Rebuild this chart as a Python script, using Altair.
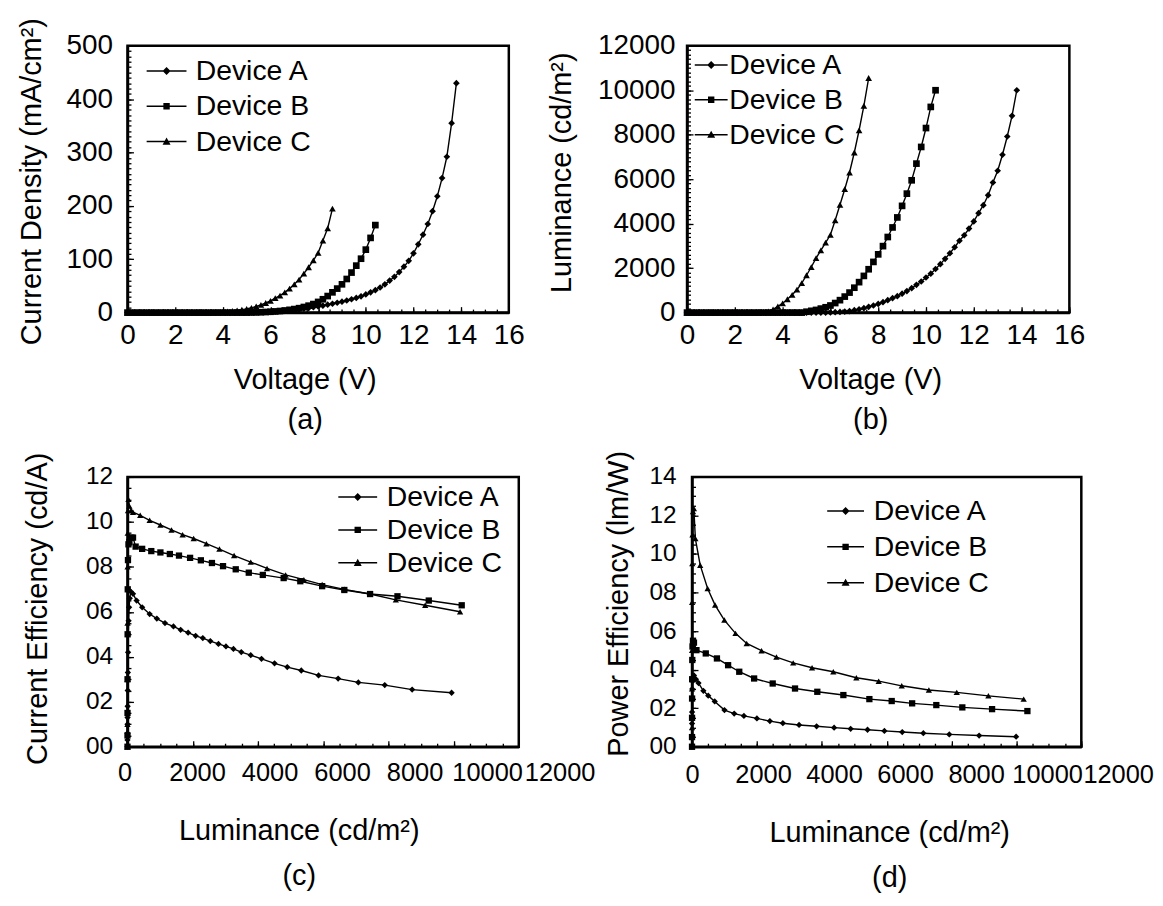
import altair as alt
import pandas as pd

FONT = "Liberation Sans"
DEVICES = ["Device A", "Device B", "Device C"]
MARKERS = ["diamond", "square", "triangle-up"]

# ---------------- (a) current density vs voltage ----------------
volt_A = [0.0, 0.2, 0.4, 0.6, 0.8, 1.0, 1.2, 1.4, 1.6, 1.8, 2.0, 2.2, 2.4, 2.6, 2.8, 3.0, 3.2, 3.4, 3.6, 3.8,
          4.0, 4.2, 4.4, 4.6, 4.8, 5.0, 5.2, 5.4, 5.6, 5.8, 6.0, 6.2, 6.4, 6.6, 6.8, 7.0, 7.2, 7.4, 7.6, 7.8,
          8.0, 8.2, 8.4, 8.6, 8.8, 9.0, 9.2, 9.4, 9.6, 9.8, 10.0, 10.2, 10.4, 10.6, 10.8, 11.0, 11.2, 11.4,
          11.6, 11.8, 12.0, 12.2, 12.4, 12.6, 12.8, 13.0, 13.2, 13.4, 13.6, 13.8]
volt_B = [0.0, 0.2, 0.4, 0.6, 0.8, 1.0, 1.2, 1.4, 1.6, 1.8, 2.0, 2.2, 2.4, 2.6, 2.8, 3.0, 3.2, 3.4, 3.6, 3.8,
          4.0, 4.2, 4.4, 4.6, 4.8, 5.0, 5.2, 5.4, 5.6, 5.8, 6.0, 6.2, 6.4, 6.6, 6.8, 7.0, 7.2, 7.4, 7.6, 7.8,
          8.0, 8.2, 8.4, 8.6, 8.8, 9.0, 9.2, 9.4, 9.6, 9.8, 10.0, 10.2, 10.4]
volt_C_jv = [0.0, 0.2, 0.4, 0.6, 0.8, 1.0, 1.2, 1.4, 1.6, 1.8, 2.0, 2.2, 2.4, 2.6, 2.8, 3.0, 3.2, 3.4, 3.6, 3.8,
             4.0, 4.2, 4.4, 4.6, 4.8, 5.0, 5.2, 5.4, 5.6, 5.8, 6.0, 6.2, 6.4, 6.6, 6.8, 7.0, 7.2, 7.4, 7.6, 7.8,
             8.0, 8.2, 8.4, 8.6]
jd_A = [0, 0, 0, 0, 0, 0, 0, 0, 0, 0, 0, 0, 0, 0, 0, 0, 0, 0, 0, 0, 0, 0, 0, 0, 0,
        0.2, 0.3, 0.5, 0.8, 1.1, 1.5, 2.0, 2.6, 3.3, 4.1, 5.0, 6.0, 7.2, 8.5, 10, 11.5, 13, 14.8, 16.6, 18.5,
        20.5, 22.7, 25, 27.5, 30.5, 34, 38, 42, 47, 53, 60, 67, 76, 86, 97, 111, 128, 146, 166, 190,
        218, 252, 292, 355, 430]
jd_B = [0, 0, 0, 0, 0, 0, 0, 0, 0, 0, 0, 0, 0, 0, 0, 0, 0, 0, 0, 0, 0, 0, 0, 0, 0, 0,
        0.2, 0.4, 0.7, 1.1, 1.6, 2.2, 3.0, 4.0, 5.2, 6.6, 8.3, 10.5, 13, 16, 20, 25, 31, 38, 45, 53,
        63, 75, 88, 101, 118, 140, 164]
jd_C = [0, 0, 0, 0, 0, 0, 0, 0, 0, 0, 0, 0, 0, 0, 0, 0, 0, 0,
        0.3, 0.8, 1.4, 2.1, 3.0, 4.2, 5.5, 7.0, 9.0, 11.5, 14.5, 18, 22, 27, 32, 38, 45, 53, 62, 73,
        85, 98, 112, 135, 158, 195]

# ---------------- (b) luminance vs voltage ----------------
volt_C_lv = [0.0, 0.2, 0.4, 0.6, 0.8, 1.0, 1.2, 1.4, 1.6, 1.8, 2.0, 2.2, 2.4, 2.6, 2.8, 3.0, 3.2, 3.4, 3.6, 3.8,
             4.0, 4.2, 4.4, 4.6, 4.8, 5.0, 5.2, 5.4, 5.6, 5.8, 6.0, 6.2, 6.4, 6.6, 6.8, 7.0, 7.2, 7.4, 7.6]
lum_A = [0, 0, 0, 0, 0, 0, 0, 0, 0, 0, 0, 0, 0, 0, 0, 0, 0, 0, 0, 0, 0, 0, 0, 0, 0, 0, 0, 0, 0, 0,
         10, 20, 30, 45, 70, 110, 150, 200, 260, 320, 390, 470, 560, 650, 740, 850, 970, 1100, 1250, 1400,
         1580, 1750, 1960, 2180, 2420, 2670, 2940, 3230, 3480, 3780, 4100, 4470, 4830, 5280, 5850,
         6380, 7100, 7920, 8850, 10000]
lum_B = [0, 0, 0, 0, 0, 0, 0, 0, 0, 0, 0, 0, 0, 0, 0, 0, 0, 0, 0, 0, 0, 0, 0, 0, 0,
         40, 80, 120, 180, 240, 320, 430, 560, 720, 900, 1120, 1370, 1650, 1950, 2280, 2620, 2990, 3400,
         3830, 4280, 4800, 5350, 5950, 6700, 7450, 8300, 9250, 10000]
lum_C = [0, 0, 0, 0, 0, 0, 0, 0, 0, 0, 0, 0, 0, 0, 0, 0,
         20, 60, 150, 280, 420, 600, 800, 1030, 1330, 1680, 2050, 2450, 2800, 3150, 3500, 4150, 4850,
         5550, 6300, 7200, 8200, 9300, 10550]

# ---------------- (c) current efficiency vs luminance ----------------
ce_lum_A = [0, 0, 1, 2, 3, 5, 8, 12, 18, 25, 35, 50, 70, 100, 170, 280, 450, 680, 900, 1150, 1410, 1630,
            1860, 2090, 2310, 2540, 2790, 3020, 3250, 3490, 3780, 4110, 4510, 4900, 5330, 5860, 6460,
            7080, 7890, 8730, 9940]
ce_A = [0.0, 0.3, 0.6, 1.0, 1.3, 1.8, 2.5, 3.3, 4.2, 5.0, 5.6, 6.2, 6.6, 6.9, 6.8, 6.5, 6.2, 5.9, 5.7,
        5.5, 5.35, 5.2, 5.07, 4.93, 4.83, 4.7, 4.57, 4.46, 4.35, 4.21, 4.07, 3.91, 3.71, 3.54, 3.39,
        3.17, 3.03, 2.86, 2.74, 2.54, 2.4]
ce_lum_B = [0, 0, 1, 2, 4, 8, 15, 30, 60, 120, 170, 250, 450, 730, 1010, 1300, 1580, 1920, 2250, 2590,
            2930, 3320, 3720, 4150, 4790, 5300, 5970, 6650, 7440, 8280, 9240, 10250]
ce_B = [0.0, 0.5, 1.5, 3.0, 5.0, 7.0, 8.3, 9.0, 9.1, 9.3, 9.3, 8.9, 8.8, 8.7, 8.64, 8.57, 8.5, 8.4,
        8.29, 8.17, 8.03, 7.89, 7.74, 7.64, 7.5, 7.36, 7.14, 6.97, 6.79, 6.69, 6.5, 6.29]
ce_lum_C = [0, 0, 1, 2, 4, 8, 15, 30, 60, 120, 170, 390, 680, 1010, 1350, 1690, 2030, 2420, 2820, 3270,
            3780, 4280, 4850, 5410, 5970, 6650, 7440, 8230, 9130, 10200]
ce_C = [0.0, 1.0, 3.0, 5.5, 8.0, 9.5, 10.5, 11.0, 10.7, 10.5, 10.43, 10.29, 10.07, 9.86, 9.64, 9.43,
        9.26, 9.03, 8.79, 8.5, 8.21, 7.93, 7.64, 7.43, 7.21, 7.0, 6.79, 6.53, 6.29, 6.0]

# ---------------- (d) power efficiency vs luminance ----------------
pe_lum_A = [0, 0, 1, 2, 4, 8, 15, 30, 60, 120, 200, 350, 500, 700, 1000, 1300, 1600, 2000, 2400, 2800,
            3300, 3840, 4380, 4890, 5410, 5930, 6480, 7130, 7930, 8850, 9990]
pe_A = [0.0, 0.5, 1.2, 1.8, 2.5, 3.0, 3.4, 3.6, 3.7, 3.5, 3.3, 2.9, 2.65, 2.35, 1.9, 1.72, 1.6, 1.47,
        1.33, 1.22, 1.13, 1.06, 0.99, 0.93, 0.88, 0.82, 0.76, 0.7, 0.64, 0.58, 0.52]
pe_lum_B = [0, 0, 1, 2, 4, 8, 15, 30, 60, 137, 424, 768, 1112, 1456, 1914, 2487, 3175, 3862, 4665, 5467,
            6155, 6785, 7530, 8332, 9249, 10338]
pe_B = [0.0, 0.5, 1.5, 2.5, 3.5, 4.5, 5.2, 5.5, 5.4, 5.01, 4.84, 4.58, 4.23, 3.89, 3.54, 3.28, 3.02,
        2.85, 2.68, 2.47, 2.37, 2.25, 2.16, 2.04, 1.95, 1.85]
pe_lum_C = [0, 0, 1, 2, 4, 8, 15, 30, 57, 103, 252, 481, 711, 997, 1341, 1685, 2143, 2602, 3118, 3700,
            4355, 5066, 5754, 6464, 7301, 8160, 9135, 10223]
pe_C = [0.0, 1.0, 3.0, 5.0, 7.5, 9.5, 11.0, 12.2, 12.36, 10.8, 9.42, 8.21, 7.35, 6.57, 5.88, 5.36,
        4.98, 4.65, 4.35, 4.1, 3.89, 3.58, 3.4, 3.16, 2.94, 2.82, 2.64, 2.47]


def build_df(xs_list, ys_list):
    recs = []
    for dev, xs, ys in zip(DEVICES, xs_list, ys_list):
        for i, (xv, yv) in enumerate(zip(xs, ys)):
            recs.append({"x": xv, "y": yv, "Device": dev, "idx": i})
    return pd.DataFrame(recs)


def legend_paths(sym_len, marker):
    # unit = sym_len/4 px ; the line is a thin filled bar from -2 to 2 units (= sym_len px)
    m = 2.0 * marker / sym_len
    q = 0.8 * m
    t = 3.0 / sym_len
    bar = f"M-2,{-t:.3f}H2V{t:.3f}H-2Z"
    return [
        bar + f"M0,{-m:.3f}L{m:.3f},0L0,{m:.3f}L{-m:.3f},0Z",
        bar + f"M{-q:.3f},{-q:.3f}H{q:.3f}V{q:.3f}H{-q:.3f}Z",
        bar + f"M0,{-m:.3f}L{m:.3f},{0.8 * m:.3f}H{-m:.3f}Z",
    ]


AXC = dict(domainColor="black", domainWidth=2.5, labelColor="black", titleColor="black",
           titleFont=FONT, titleFontWeight="normal", grid=False, labelFlush=False,
           labelOverlap=False, format="d")


def tick_axis(orient, count, size, offset):
    return alt.Axis(orient=orient, offset=offset, tickCount=count, tickSize=size, ticks=True,
                    tickColor="black", tickWidth=1.3, labels=False, domain=False, grid=False,
                    title=None, minExtent=0, maxExtent=0)


def panel(df, p):
    w, h = p["w"], p["h"]
    xsc = alt.Scale(domain=p["xdom"], nice=False, zero=False)
    ysc = alt.Scale(domain=p["ydom"], nice=False, zero=False)
    x_main = alt.Axis(orient="bottom", tickCount=p["xticks"], ticks=False,
                      labels=p["main_xlabels"], labelFont=FONT, labelFontSize=p["xlfs"],
                      labelPadding=p["xlpad"],
                      title=[p["xtitle"], p["tag"]], titleFontSize=29, titleX=p["xtx"], titleY=p["xty"],
                      titleBaseline="alphabetic", titleLineHeight=p["xlh"], titleAlign="center",
                      titleAngle=0, **AXC)
    ykw = dict(orient="left", tickCount=p["yticks"], ticks=False, labelFont=FONT,
               labelFontSize=p["ylfs"], labelPadding=p["ylpad"], title=p["ytitle"], titleFontSize=29,
               titleX=p["ytx"], titleY=p["yty"], titleBaseline="middle", titleAlign="center",
               titleAngle=270, **AXC)
    if p.get("ylexpr"):
        ykw["labelExpr"] = p["ylexpr"]
    y_main = alt.Axis(**ykw)

    line = alt.Chart(df).mark_line(color="black", strokeWidth=1.4).encode(
        x=alt.X("x:Q", scale=xsc, axis=x_main),
        y=alt.Y("y:Q", scale=ysc, axis=y_main),
        detail="Device:N",
        order="idx:Q",
    )
    pts = alt.Chart(df).mark_point(filled=True, color="black", opacity=1, size=p["msize"]).encode(
        x=alt.X("x:Q", scale=xsc, axis=None),
        y=alt.Y("y:Q", scale=ysc, axis=None),
        shape=alt.Shape("Device:N", scale=alt.Scale(domain=DEVICES, range=MARKERS), legend=None),
    )
    # inward major / minor ticks: axes placed on the opposite side and shifted back onto the frame
    major = alt.Chart(df).mark_point(opacity=0).transform_filter("false").encode(
        x=alt.X("x:Q", scale=xsc, axis=tick_axis("top", p["xticks"], 6, -h)),
        y=alt.Y("y:Q", scale=ysc, axis=tick_axis("right", p["yticks"], 6, -w)),
    )
    minor = alt.Chart(df).mark_point(opacity=0).transform_filter("false").encode(
        x=alt.X("x:Q", scale=xsc, axis=tick_axis("top", p["xminor"], 3.5, -h)),
        y=alt.Y("y:Q", scale=ysc, axis=tick_axis("right", p["yminor"], 3.5, -w)),
    )
    L = p["symlen"]
    leg_enc = dict(shape=alt.Shape(
        "Device:N",
        scale=alt.Scale(domain=DEVICES, range=legend_paths(L, p["legmark"])),
        legend=alt.Legend(orient="none", legendX=p["legx"], legendY=p["legy"], title=None,
                          labelFont=FONT, labelFontSize=28.5, labelColor="black",
                          symbolSize=(L / 2.0) ** 2, symbolStrokeWidth=0,
                          symbolFillColor="black", symbolOpacity=1,
                          labelOffset=p["laboff"], rowPadding=p["rowpad"], padding=0),
    ))
    if p.get("label_range"):
        # the tick labels of the luminance axis run wider than the frame, as in the original figure
        leg_enc["x"] = alt.X("x:Q", scale=alt.Scale(domain=p["xdom"], range=p["label_range"],
                                                    nice=False, zero=False),
                             axis=alt.Axis(orient="bottom", tickCount=p["xticks"], ticks=False,
                                           domain=False, labels=True, labelFont=FONT,
                                           labelFontSize=p["xlfs"], labelPadding=p["xlpad"],
                                           labelColor="black", labelFlush=False,
                                           labelOverlap=False, grid=False, title=None, format="d",
                                           minExtent=0))
    leg = alt.Chart(df).mark_point(filled=True, fill="black", opacity=1).transform_filter(
        "false").encode(**leg_enc)

    return (alt.layer(line, pts, major, minor, leg)
            .resolve_scale(x="independent", shape="independent")
            .resolve_axis(x="independent", y="independent")
            .properties(width=w, height=h,
                        view=alt.ViewConfig(stroke="black", strokeWidth=2.5)))


df_a = build_df([volt_A, volt_B, volt_C_jv], [jd_A, jd_B, jd_C])
df_b = build_df([volt_A, volt_B, volt_C_lv], [lum_A, lum_B, lum_C])
df_c = build_df([ce_lum_A, ce_lum_B, ce_lum_C], [ce_A, ce_B, ce_C])
df_d = build_df([pe_lum_A, pe_lum_B, pe_lum_C], [pe_A, pe_B, pe_C])

ZERO_PAD = "datum.value < 10 ? '0' + datum.label : datum.label"

pa = dict(w=383, h=268, xdom=[0, 16], ydom=[0, 500], xticks=8, xminor=32, yticks=5, yminor=50,
          main_xlabels=True, xlfs=28, xlpad=9, ylfs=28, ylpad=15,
          xtitle="Voltage (V)", tag="(a)", xtx=178, xty=76, xlh=40,
          ytitle="Current Density (mA/cm\u00b2)", ytx=-96, yty=136,
          msize=45, symlen=40, legmark=8, legx=25, legy=11, laboff=15, rowpad=6.5)
pb = dict(w=384, h=268, xdom=[0, 16], ydom=[0, 12000], xticks=8, xminor=32, yticks=6, yminor=60,
          main_xlabels=True, xlfs=28, xlpad=9, ylfs=28, ylpad=12,
          xtitle="Voltage (V)", tag="(b)", xtx=184, xty=76, xlh=40,
          ytitle="Luminance (cd/m\u00b2)", ytx=-126, yty=127,
          msize=45, symlen=33, legmark=8, legx=10, legy=5, laboff=4, rowpad=6)
pc = dict(w=393, h=271, xdom=[0, 12000], ydom=[0, 12], xticks=6, xminor=24, yticks=6, yminor=24,
          main_xlabels=False, label_range=[-3, 434], xlfs=25.5, xlpad=14, ylfs=24.5, ylpad=15,
          ylexpr=ZERO_PAD,
          xtitle="Luminance (cd/m\u00b2)", tag="(c)", xtx=172, xty=93, xlh=45,
          ytitle="Current Efficiency (cd/A)", ytx=-90, yty=132,
          msize=40, symlen=39, legmark=8, legx=217, legy=6, laboff=15, rowpad=4)
pd_ = dict(w=391, h=271, xdom=[0, 12000], ydom=[0, 14], xticks=6, xminor=24, yticks=7, yminor=28,
           main_xlabels=False, label_range=[0, 428], xlfs=25.5, xlpad=16, ylfs=24.5, ylpad=16,
           ylexpr=ZERO_PAD,
           xtitle="Luminance (cd/m\u00b2)", tag="(d)", xtx=198, xty=95, xlh=45,
           ytitle="Power Efficiency (lm/W)", ytx=-74, yty=127,
           msize=40, symlen=37, legmark=8, legx=140, legy=20, laboff=14, rowpad=7)

chart_a = panel(df_a, pa)
chart_b = panel(df_b, pb)
chart_c = panel(df_c, pc)
chart_d = panel(df_d, pd_)

chart = alt.vconcat(
    alt.hconcat(chart_a, chart_b, spacing=20),
    alt.hconcat(chart_c, chart_d, spacing=6),
    spacing=13,
).properties(
    padding={"left": 8, "top": 6, "right": 0, "bottom": 0}
).configure(
    font=FONT, background="white"
).configure_view(
    stroke="black", strokeWidth=2.5
)

chart.save("out.html", embed_options={"renderer": "svg", "actions": False})
